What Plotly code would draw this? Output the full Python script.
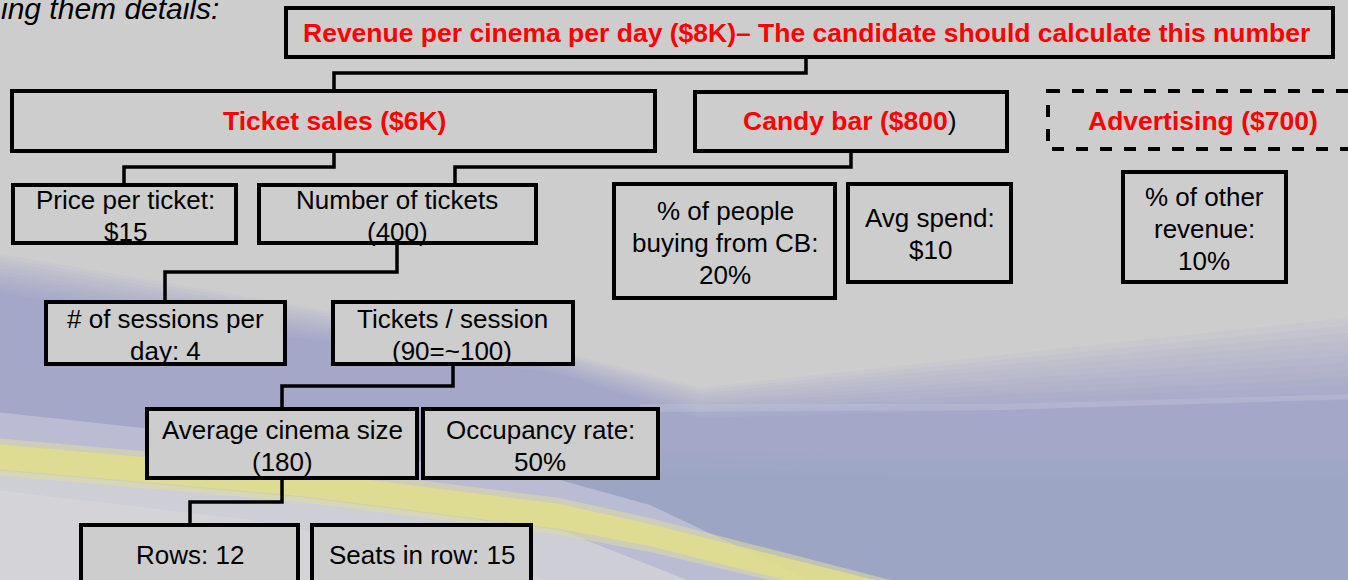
import plotly.graph_objects as go

W, H = 1348, 580

# ---------------- data (texts of the tree) ----------------
intro_text = "ing them details:"

node_ids = ["revenue", "tickets", "candy", "ads",
            "price", "number", "pct_cb", "avg_spend", "pct_other",
            "sessions", "tps", "size", "occupancy", "rows", "seats"]

node_labels = [
    "Revenue per cinema per day ($8K)– The candidate should calculate this number",
    "Ticket sales ($6K)",
    "Candy bar ($800)",
    "Advertising ($700)",
    "Price per ticket:<br>$15",
    "Number of tickets<br>(400)",
    "% of people<br>buying from CB:<br>20%",
    "Avg spend:<br>$10",
    "% of other<br>revenue:<br>10%",
    "# of sessions per<br>day: 4",
    "Tickets / session<br>(90=~100)",
    "Average cinema size<br>(180)",
    "Occupancy rate:<br>50%",
    "Rows: 12",
    "Seats in row: 15",
]

headline_nodes = ["revenue", "tickets", "candy", "ads"]
dashed_nodes = ["ads"]

edges = [("revenue", "tickets"), ("tickets", "price"), ("candy", "number"),
         ("number", "sessions"), ("tps", "size"), ("size", "rows")]

# ---------------- layout geometry (pixels, y down) ----------------
box = {
    "revenue":   (286, 1333, 8, 57),
    "tickets":   (12, 655, 91, 151),
    "candy":     (695, 1007, 92, 151),
    "ads":       (1048, 1375, 91, 149),
    "price":     (13, 236, 185, 243),
    "number":    (259, 536, 185, 243),
    "pct_cb":    (614, 835, 184, 298),
    "avg_spend": (848, 1011, 184, 282),
    "pct_other": (1123, 1286, 172, 282),
    "sessions":  (46, 285, 302, 364),
    "tps":       (333, 573, 302, 364),
    "size":      (147, 417, 409, 478),
    "occupancy": (423, 658, 409, 478),
    "rows":      (81, 298, 525, 610),
    "seats":     (312, 531, 525, 610),
}
text_pos = {
    "revenue": (806, 33), "tickets": (334, 121), "candy": (850, 121),
    "ads": (1203, 121), "price": (125, 216), "number": (397, 216),
    "pct_cb": (725, 243), "avg_spend": (930, 234), "pct_other": (1204, 229),
    "sessions": (165, 335), "tps": (452, 335), "size": (282, 446),
    "occupancy": (540, 446), "rows": (190, 555), "seats": (422, 555),
}
LINE_GAP = 32
# (x leaving parent, elbow y, x entering child)
edge_route = {
    ("revenue", "tickets"): (806, 73, 334),
    ("tickets", "price"): (334, 167, 124),
    ("candy", "number"): (851, 167, 455),
    ("number", "sessions"): (397, 272, 165),
    ("tps", "size"): (453, 386, 282),
    ("size", "rows"): (282, 502, 190),
}

GRAY = "#CDCDCD"
FONT = "Arial, Liberation Sans, Helvetica, sans-serif"


def poly(pts):
    return "M " + " L ".join(f"{x:.1f},{y:.1f}" for x, y in pts) + " Z"


def lerp_curve(a, b, t):
    return [(xa + (xb - xa) * t, ya + (yb - ya) * t) for (xa, ya), (xb, yb) in zip(a, b)]


def lerp_col(c0, c1, t):
    return "rgb(%d,%d,%d)" % tuple(round(u + (v - u) * t) for u, v in zip(c0, c1))


shapes = []


def bg(pts, col):
    shapes.append(dict(type="path", path=poly(pts), xref="x", yref="y",
                       fillcolor=col, line=dict(width=0), layer="below"))


# ---------- background waves ----------
# soft purple band (stepwise gradient following the wave)
upper = [(-5, 250), (300, 303), (560, 350), (700, 385), (1000, 350), (1353, 310)]
lower = [(-5, 292), (300, 338), (560, 374), (700, 418), (1000, 410), (1353, 400)]
c_top, c_bot = (205, 205, 206), (165, 167, 201)
N = 12
for i in range(N + 1):
    t = i / N
    cur = lerp_curve(upper, lower, t)
    bg(cur + [(1353, 585), (-5, 585)], lerp_col(c_top, c_bot, t ** 0.8))

# faint light streak on the right boundary
bg([(640, 404), (1000, 404), (1353, 394), (1353, 399), (1000, 410), (640, 412)],
   "rgba(200,202,222,0.3)")

# lower-right blue-grey zone
u2 = [(560, 440), (900, 452), (1353, 452)]
l2 = [(560, 480), (900, 482), (1353, 482)]
for i in range(6):
    t = (i + 1) / 6
    cur = lerp_curve(u2, l2, i / 6)
    bg(cur + [(1353, 585), (560, 585)], lerp_col((165, 167, 201), (156, 166, 196), t))

# light lavender strip above yellow on the left
bg([(-5, 412), (300, 445), (560, 480), (650, 505), (820, 585), (-5, 585)], "rgba(190,192,214,0.85)")
# whitish area under the yellow stripe
bg([(-5, 470), (300, 497), (560, 530), (700, 585), (-5, 585)], "rgb(206,207,214)")
bg([(-5, 490), (250, 520), (500, 565), (560, 585), (-5, 585)], "rgb(212,212,216)")

# yellow stripe (soft halo + core)
y_up = [(-5, 438), (300, 465), (560, 498), (650, 518), (910, 585)]
y_lo = [(790, 585), (650, 552), (560, 535), (300, 502), (-5, 475)]
bg(y_up + y_lo, "rgba(222,220,160,0.55)")
y_up2 = [(-5, 444), (300, 471), (560, 504), (650, 524), (895, 585)]
y_lo2 = [(805, 585), (650, 546), (560, 529), (300, 496), (-5, 469)]
bg(y_up2 + y_lo2, "rgba(224,221,140,0.85)")

# ---------- connectors ----------
for (p, c) in edges:
    x0, ym, x1 = edge_route[(p, c)]
    y0 = box[p][3]
    y1 = box[c][2]
    shapes.append(dict(type="path", xref="x", yref="y",
                       path=f"M {x0},{y0} L {x0},{ym} L {x1},{ym} L {x1},{y1}",
                       line=dict(color="black", width=3.5)))

# ---------- boxes ----------
for nid in node_ids:
    x0, x1, y0, y1 = box[nid]
    shapes.append(dict(type="rect", xref="x", yref="y", x0=x0, x1=x1, y0=y0, y1=y1,
                       fillcolor=GRAY,
                       line=dict(color="black", width=4,
                                 dash="dash" if nid in dashed_nodes else "solid")))

# ---------- texts ----------
annotations = []
for nid, label in zip(node_ids, node_labels):
    x, y = text_pos[nid]
    if nid in headline_nodes:
        txt = label
        if nid == "candy":
            txt = label[:-1] + '<span style="color:black;font-weight:normal">)</span>'
        font = dict(family=FONT, size=26.5, color="#FF0000", weight="bold")
        annotations.append(dict(x=x, y=y, xref="x", yref="y", text=txt, showarrow=False,
                                xanchor="center", yanchor="middle", font=font))
    else:
        lines = label.split("<br>")
        n = len(lines)
        for i, ln in enumerate(lines):
            yy = y + (i - (n - 1) / 2) * LINE_GAP
            annotations.append(dict(x=x, y=yy, xref="x", yref="y", text=ln, showarrow=False,
                                    xanchor="center", yanchor="middle",
                                    font=dict(family=FONT, size=26, color="black")))

annotations.append(dict(x=0, y=8, xref="x", yref="y", xshift=-1, text=f"<i>{intro_text}</i>",
                        showarrow=False, xanchor="left", yanchor="middle",
                        font=dict(family=FONT, size=30, color="black")))

fig = go.Figure()
fig.add_trace(go.Scatter(x=[0, W], y=[0, H], mode="markers",
                         marker=dict(opacity=0), hoverinfo="skip", showlegend=False))
fig.update_layout(
    width=W, height=H, margin=dict(l=0, r=0, t=0, b=0),
    paper_bgcolor=GRAY, plot_bgcolor=GRAY,
    xaxis=dict(range=[0, W], visible=False, fixedrange=True),
    yaxis=dict(range=[H, 0], visible=False, fixedrange=True),
    shapes=shapes, annotations=annotations, showlegend=False,
)
fig.write_html("out.html", config={"displayModeBar": False},
               post_script="document.body.style.margin='0';document.body.style.overflow='hidden';")
